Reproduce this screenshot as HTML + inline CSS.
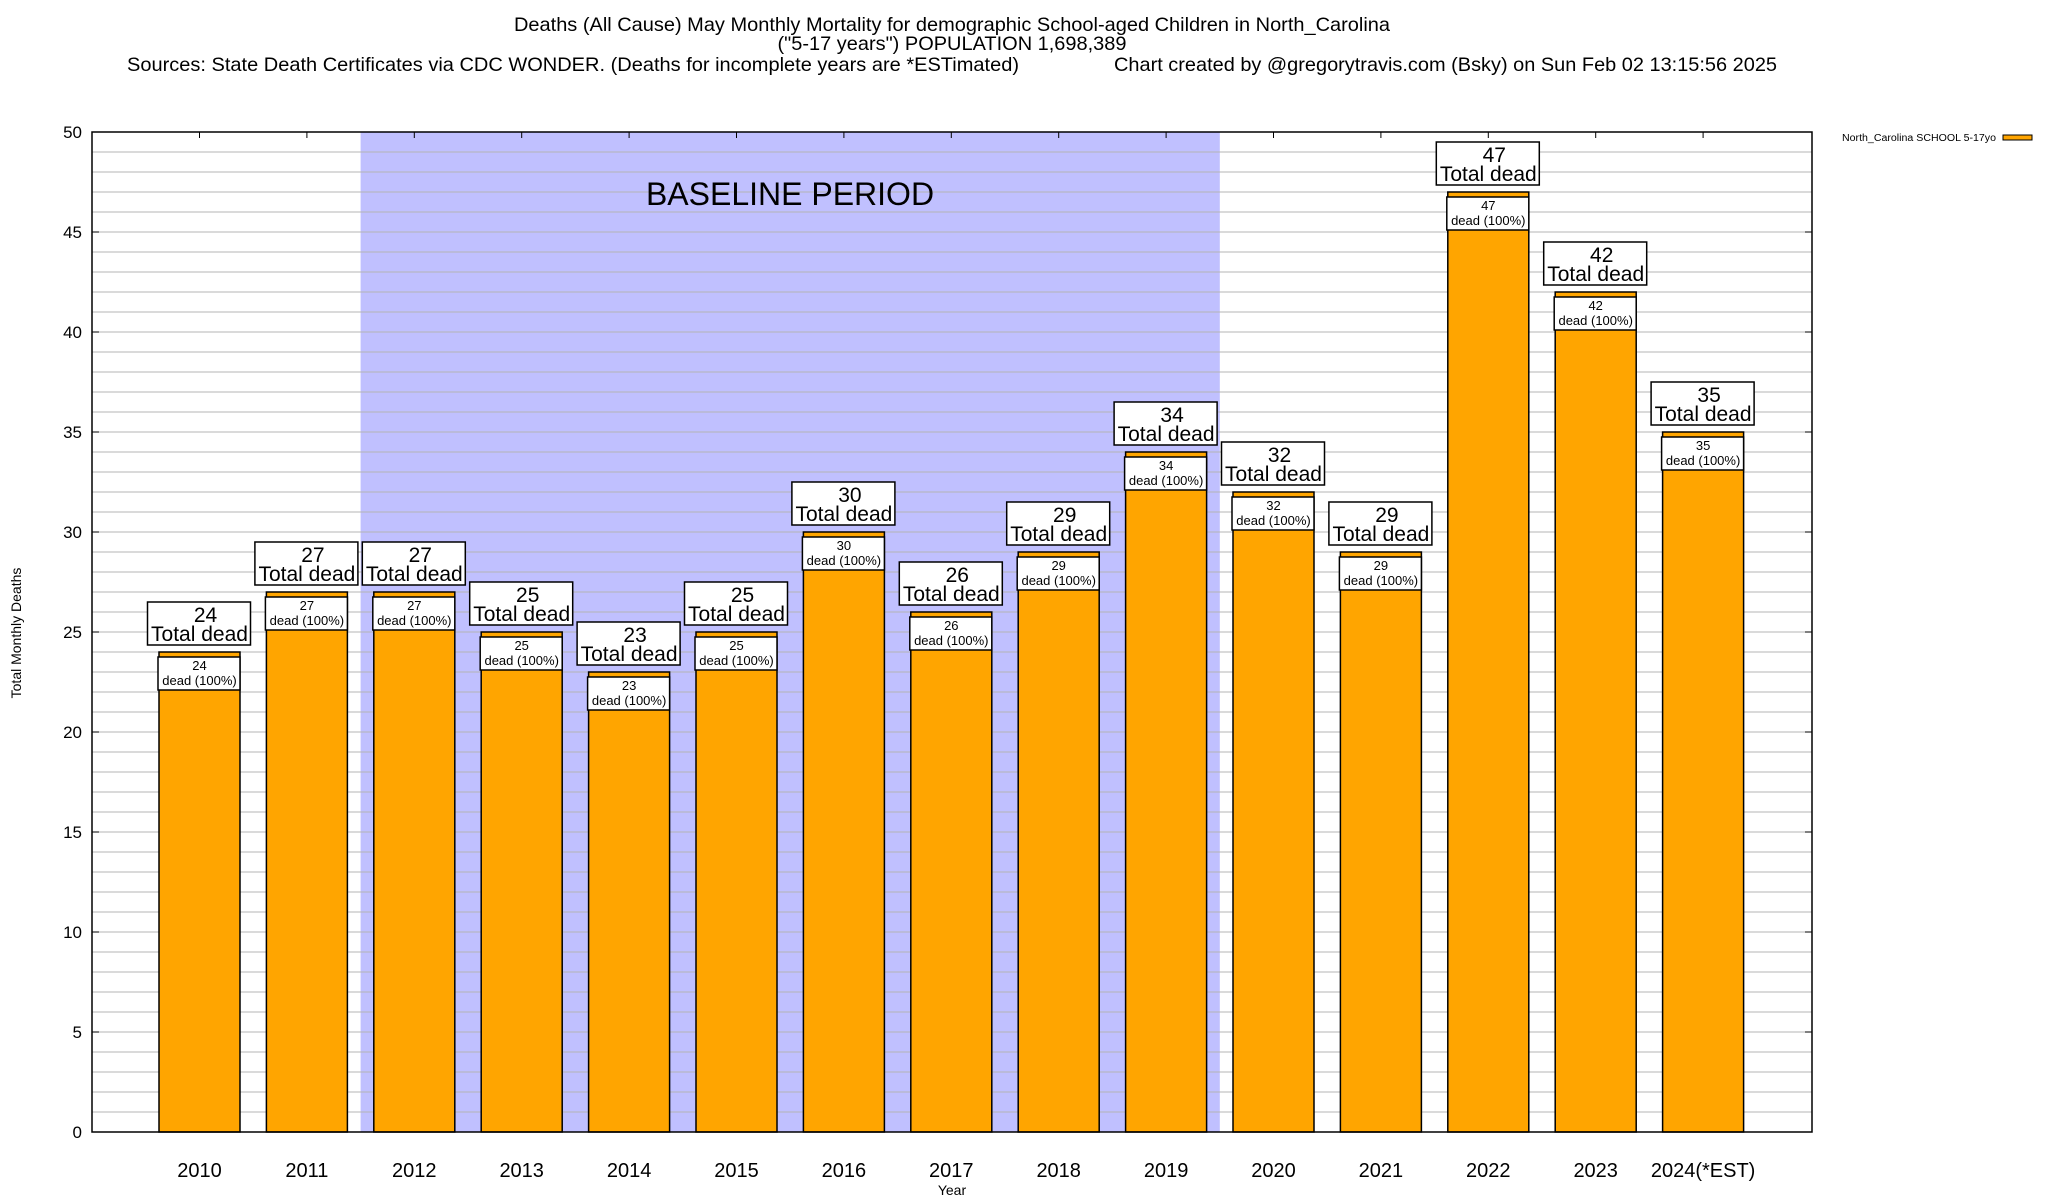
<!DOCTYPE html>
<html><head><meta charset="utf-8"><style>
body{margin:0;background:#fff}
svg{display:block;font-family:"Liberation Sans",Arial,sans-serif}
</style></head><body>
<svg id="chart" width="2048" height="1200" viewBox="0 0 2048 1200">
<g font-size="19.5" text-anchor="middle" fill="#000">
<text x="952" y="31" textLength="876" lengthAdjust="spacingAndGlyphs">Deaths (All Cause) May Monthly Mortality for demographic School-aged Children in North_Carolina</text>
<text x="952" y="50" textLength="349" lengthAdjust="spacingAndGlyphs">("5-17 years") POPULATION 1,698,389</text>
<text x="127" y="71" text-anchor="start" textLength="892" lengthAdjust="spacingAndGlyphs">Sources: State Death Certificates via CDC WONDER. (Deaths for incomplete years are *ESTimated)</text>
<text x="1777" y="71" text-anchor="end" textLength="663" lengthAdjust="spacingAndGlyphs">Chart created by @gregorytravis.com (Bsky) on Sun Feb 02 13:15:56 2025</text>
</g>
<g id="plot"></g>
<text x="0" y="0" font-size="14" text-anchor="middle" transform="translate(21,633) rotate(-90)">Total Monthly Deaths</text>
<text x="952" y="1195" font-size="14" text-anchor="middle">Year</text>
<g>
<text x="1842" y="141" font-size="10" textLength="154" lengthAdjust="spacingAndGlyphs">North_Carolina SCHOOL 5-17yo</text>
<rect x="2003" y="135" width="29" height="5" fill="#ffa500" stroke="#000" stroke-width="1"/>
</g>
</svg>
<script>
const categories=["2010","2011","2012","2013","2014","2015","2016","2017","2018","2019","2020","2021","2022","2023","2024(*EST)"];
const deaths=[24,27,27,25,23,25,30,26,29,34,32,29,47,42,35];
const yTicks=[0,5,10,15,20,25,30,35,40,45,50];
const baselineRange=[2,9];

const L=92,R=1812,T=132,B=1132,yMax=50;
const X0=199.5,STEP=107.4,BW=81;
const ns="http://www.w3.org/2000/svg";
const plot=document.getElementById('plot');
function y(v){return B-(v/yMax)*(B-T);}
function x(i){return X0+i*STEP;}
function mk(tag,attrs,parent){const e=document.createElementNS(ns,tag);for(const k in attrs)e.setAttribute(k,attrs[k]);(parent||plot).appendChild(e);return e;}

const bs=mk('rect',{x:x(baselineRange[0])-STEP/2,y:T,width:(baselineRange[1]-baselineRange[0]+1)*STEP,height:B-T,fill:'#c0c0ff'});


for(let v=1;v<yMax;v++){
  const g=mk('line',{x1:L,x2:R,y1:y(v),y2:y(v),stroke:'#b4b4b4','stroke-width':1});
  
  
}
const bt=mk('text',{x:790,y:205,'font-size':32,'text-anchor':'middle'});
bt.textContent='BASELINE PERIOD';



yTicks.forEach(v=>{
  const t=mk('text',{x:82,y:y(v)+6,'font-size':17,'text-anchor':'end'});
  t.textContent=v;
  
  
  mk('line',{x1:L,x2:L+7,y1:y(v),y2:y(v),stroke:'#000'});
  mk('line',{x1:R,x2:R-7,y1:y(v),y2:y(v),stroke:'#000'});
});

categories.forEach((c,i)=>{
  const v=deaths[i],cx=x(i),top=y(v);
  const g=mk('g',{});
  
  
  mk('rect',{x:cx-BW/2,y:top,width:BW,height:B-top,fill:'#ffa500',stroke:'#000','stroke-width':1.5},g);
  mk('rect',{x:cx-BW/2-1,y:top+5,width:BW+1,height:33,fill:'#fff',stroke:'#000','stroke-width':1.5},g);
  const a=mk('text',{x:cx,y:top+18,'font-size':13,'text-anchor':'middle'},g);a.textContent=v;
  const b=mk('text',{x:cx,y:top+33,'font-size':13,'text-anchor':'middle'},g);b.textContent='dead (100%)';
  const lb=mk('g',{});
  
  
  mk('rect',{x:cx-52,y:top-50,width:103,height:43,fill:'#fff',stroke:'#000','stroke-width':1.5},lb);
  const n=mk('text',{x:cx+6,y:top-30,'font-size':21,'text-anchor':'middle'},lb);n.textContent=v;
  const d=mk('text',{x:cx,y:top-11,'font-size':21,'text-anchor':'middle'},lb);d.textContent='Total dead';
  const xl=mk('text',{x:cx,y:1177,'font-size':20,'text-anchor':'middle'});
  xl.textContent=c;
  
  
  mk('line',{x1:cx,x2:cx,y1:T,y2:T+6,stroke:'#000'});
});
const fr=mk('rect',{x:L,y:T,width:R-L,height:B-T,fill:'none',stroke:'#000','stroke-width':1.5});


</script>
</body></html>
